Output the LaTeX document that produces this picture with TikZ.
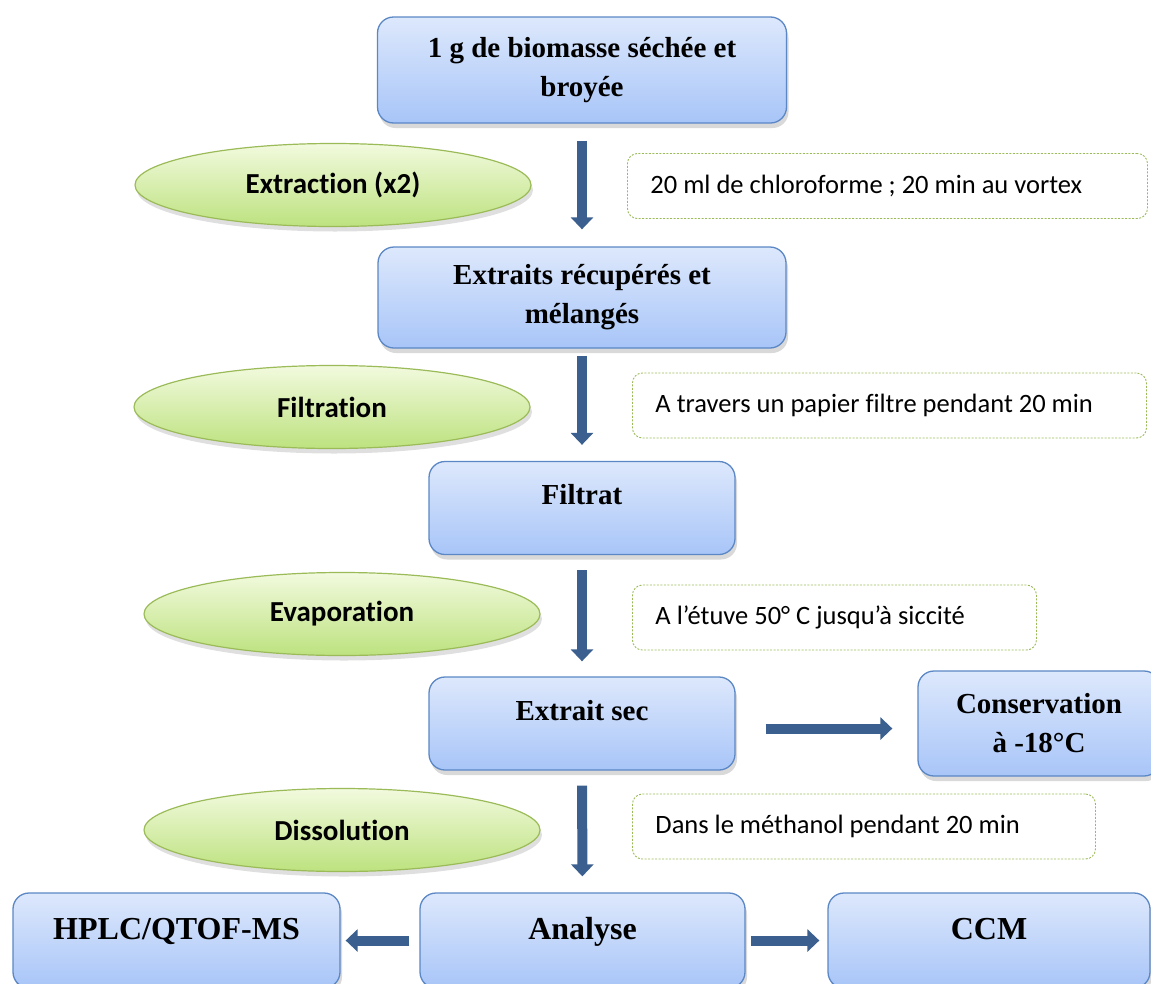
\documentclass[tikz,border=0pt]{standalone}
\usepackage{fontspec}
\setmainfont{Liberation Serif}
\newfontfamily\calibri[Ligatures=NoCommon]{Carlito}
\usetikzlibrary{calc,positioning,shapes.geometric,shadows,arrows.meta}
\definecolor{boxtop}{HTML}{DDE8FC}
\definecolor{boxbot}{HTML}{A8C5F8}
\definecolor{boxline}{HTML}{5B87C5}
\definecolor{elltop}{HTML}{F2FADE}
\definecolor{ellbot}{HTML}{BDE27F}
\definecolor{ellline}{HTML}{9BBB59}
\definecolor{fleche}{HTML}{3B5F8E}

\begin{document}
\begin{tikzpicture}[x=1pt,y=-1pt,
	etape/.style={draw=boxline,line width=1.3pt,rounded corners=16pt,
		top color=boxtop,bottom color=boxbot,
		drop shadow={shadow xshift=2pt,shadow yshift=-5pt,opacity=0.3},
		align=center,inner sep=0pt,font=\bfseries\fontsize{29}{39}\selectfont},
	uneligne/.style={text height=43pt,text depth=50pt},
	grand/.style={font=\bfseries\fontsize{32}{38}\selectfont,text height=46pt,text depth=49pt},
	operation/.style={ellipse,draw=ellline,line width=1.2pt,
		top color=elltop,bottom color=ellbot,
		drop shadow={shadow xshift=2pt,shadow yshift=-5pt,opacity=0.25},
		minimum width=396pt,minimum height=83pt,inner sep=0pt,
		font=\calibri\bfseries\fontsize{29}{34}\selectfont},
	remarque/.style={draw=ellline,line width=0.9pt,dash pattern=on 2pt off 1.5pt,
		rounded corners=10pt,anchor=west,minimum height=65pt,
		inner xsep=23pt,align=flush left,font=\calibri\fontsize{26.5}{32}\selectfont,
		execute at begin node={\spaceskip=0pt\xspaceskip=0pt}},
	fleche/.style={draw=fleche,line width=10pt,-{Triangle[width=22pt,length=12pt]}}]
	\useasboundingbox (0,0) rectangle (1151,983);
	\coordinate (COL) at (582,0);
	\coordinate (GAUCHE) at (333,0);
	% main steps
	\node[etape,minimum width=409pt,minimum height=106pt] (biomasse) at ($ (COL) + (0,70) $) {1 g de biomasse séchée et\\broyée};
	\node[etape,minimum width=408pt,minimum height=101pt] (extraits) at ($ (COL) + (0,297.5) $) {Extraits récupérés et\\mélangés};
	\node[etape,uneligne,minimum width=306pt] (filtrat) at ($ (COL) + (0,508) $) {Filtrat};
	\node[etape,uneligne,minimum width=306pt] (extsec) at ($ (COL) + (0,723.5) $) {Extrait sec};
	\node[etape,minimum width=242pt,minimum height=105pt] (conserv) at (1039,723.5) {Conservation\\à -18°C};
	\node[etape,grand,minimum width=325pt] (analyse) at ($ (COL) + (0.5,940.5) $) {Analyse};
	\node[etape,grand,minimum width=327pt] (hplc) at (176.5,940.5) {HPLC/QTOF-MS};
	\node[etape,grand,minimum width=322pt] (ccm) at (989,940.5) {CCM};
	% operations
	\node[operation] (extraction) at ($ (GAUCHE) + (0,185) $) {Extraction (x2)};
	\node[operation] (filtration) at ($ (GAUCHE) + (-1,407) $) {Filtration};
	\node[operation] (evaporation) at ($ (GAUCHE) + (9,614) $) {Evaporation};
	\node[operation] (dissolution) at ($ (GAUCHE) + (9,830) $) {Dissolution};
	% conditions
	\node[remarque,text width=474pt] (vortex) at (627,186) {20 ml de chloroforme ; 20 min au vortex};
	\node[remarque,text width=468pt] (papier) at (632,405.5) {A travers un papier filtre pendant 20 min};
	\node[remarque,text width=358pt] (etuve) at (632,617.5) {A l’étuve 50° C jusqu’à siccité};
	\node[remarque,text width=417pt] (methanol) at (632,826.5) {Dans le méthanol pendant 20 min};
	% arrows
	\draw[fleche,shorten <=17pt,shorten >=17pt] (biomasse) -- (extraits);
	\draw[fleche,shorten <=7pt,shorten >=16pt] (extraits) -- (filtrat);
	\draw[fleche,shorten <=15pt,shorten >=15pt] (filtrat) -- (extsec);
	\draw[fleche,shorten <=15pt,shorten >=16pt] (extsec) -- (analyse);
	\draw[fleche,shorten <=30pt,shorten >=25pt] ([yshift=-5pt]extsec.east) -- ([yshift=-5pt]conserv.west);
	\draw[fleche,shorten <=10pt,shorten >=5pt] (analyse) -- (hplc);
	\draw[fleche,shorten <=5pt,shorten >=8pt] (analyse) -- (ccm);
\end{tikzpicture}
\end{document}
